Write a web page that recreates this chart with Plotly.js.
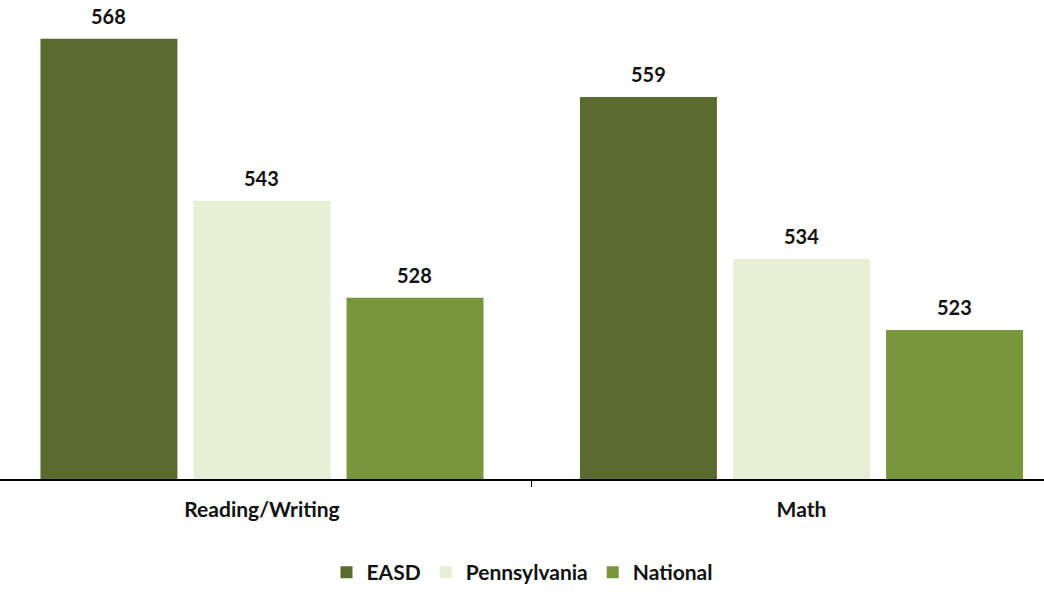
<!DOCTYPE html>
<html>
<head>
<meta charset="utf-8">
<script src="https://cdn.plot.ly/plotly-3.0.1.min.js"></script>
<style>
  html, body { margin: 0; padding: 0; background: #ffffff; }
  #chart { width: 1044px; height: 593px; }
</style>
</head>
<body>
<div id="chart"></div>
<script>
const categories = ["Reading/Writing", "Math"];
const seriesNames = ["EASD", "Pennsylvania", "National"];
const easd = [568, 559];
const pennsylvania = [543, 534];
const national = [528, 523];
const seriesColors = ["#5b6b2f", "#e9efd4", "#78963a"];

const seriesValues = [easd, pennsylvania, national];
const FONT = "Lato, 'Open Sans', 'Liberation Sans', sans-serif";

const traces = seriesValues.map((vals, i) => ({
  type: "bar",
  name: seriesNames[i],
  x: categories,
  y: vals,
  marker: { color: seriesColors[i], line: { width: 0 } },
  hoverinfo: "none"
}));

const slotPx = 153;
const annotations = [];
seriesValues.forEach((vals, i) => {
  vals.forEach((v, j) => {
    annotations.push({
      x: categories[j], y: v, xref: "x", yref: "y",
      text: "<b>" + v + "</b>",
      showarrow: false,
      xshift: (i - 1) * slotPx,
      yanchor: "bottom",
      yshift: 9,
      font: { family: FONT, size: 20, color: "#111111" }
    });
  });
});

const layout = {
  width: 1044, height: 593, autosize: false,
  margin: { l: 0, r: 0, t: 0, b: 114, pad: 0 },
  paper_bgcolor: "#ffffff", plot_bgcolor: "#ffffff",
  barmode: "group", bargap: 0.149, bargroupgap: 0.105,
  showlegend: true,
  legend: {
    orientation: "h", x: 0.5, xanchor: "center",
    yref: "container", y: -0.008, yanchor: "bottom",
    font: { family: FONT, size: 21, color: "#111111", weight: "bold" },
    itemwidth: 30, traceorder: "normal"
  },
  xaxis: {
    type: "category",
    range: [-0.4856, 1.4495],
    showline: true, linecolor: "#000000", linewidth: 2,
    ticks: "outside", tickson: "boundaries", ticklen: 6, tickwidth: 1.5, tickcolor: "#000000",
    tickfont: { family: FONT, size: 21, color: "#111111", weight: "bold" },
    ticklabelstandoff: 11,
    automargin: false,
    showgrid: false, zeroline: false, fixedrange: true
  },
  yaxis: {
    range: [500, 574],
    visible: false, showgrid: false, zeroline: false, fixedrange: true
  },
  annotations: annotations
};

Plotly.newPlot("chart", traces, layout, { displayModeBar: false, staticPlot: true });
</script>
</body>
</html>
